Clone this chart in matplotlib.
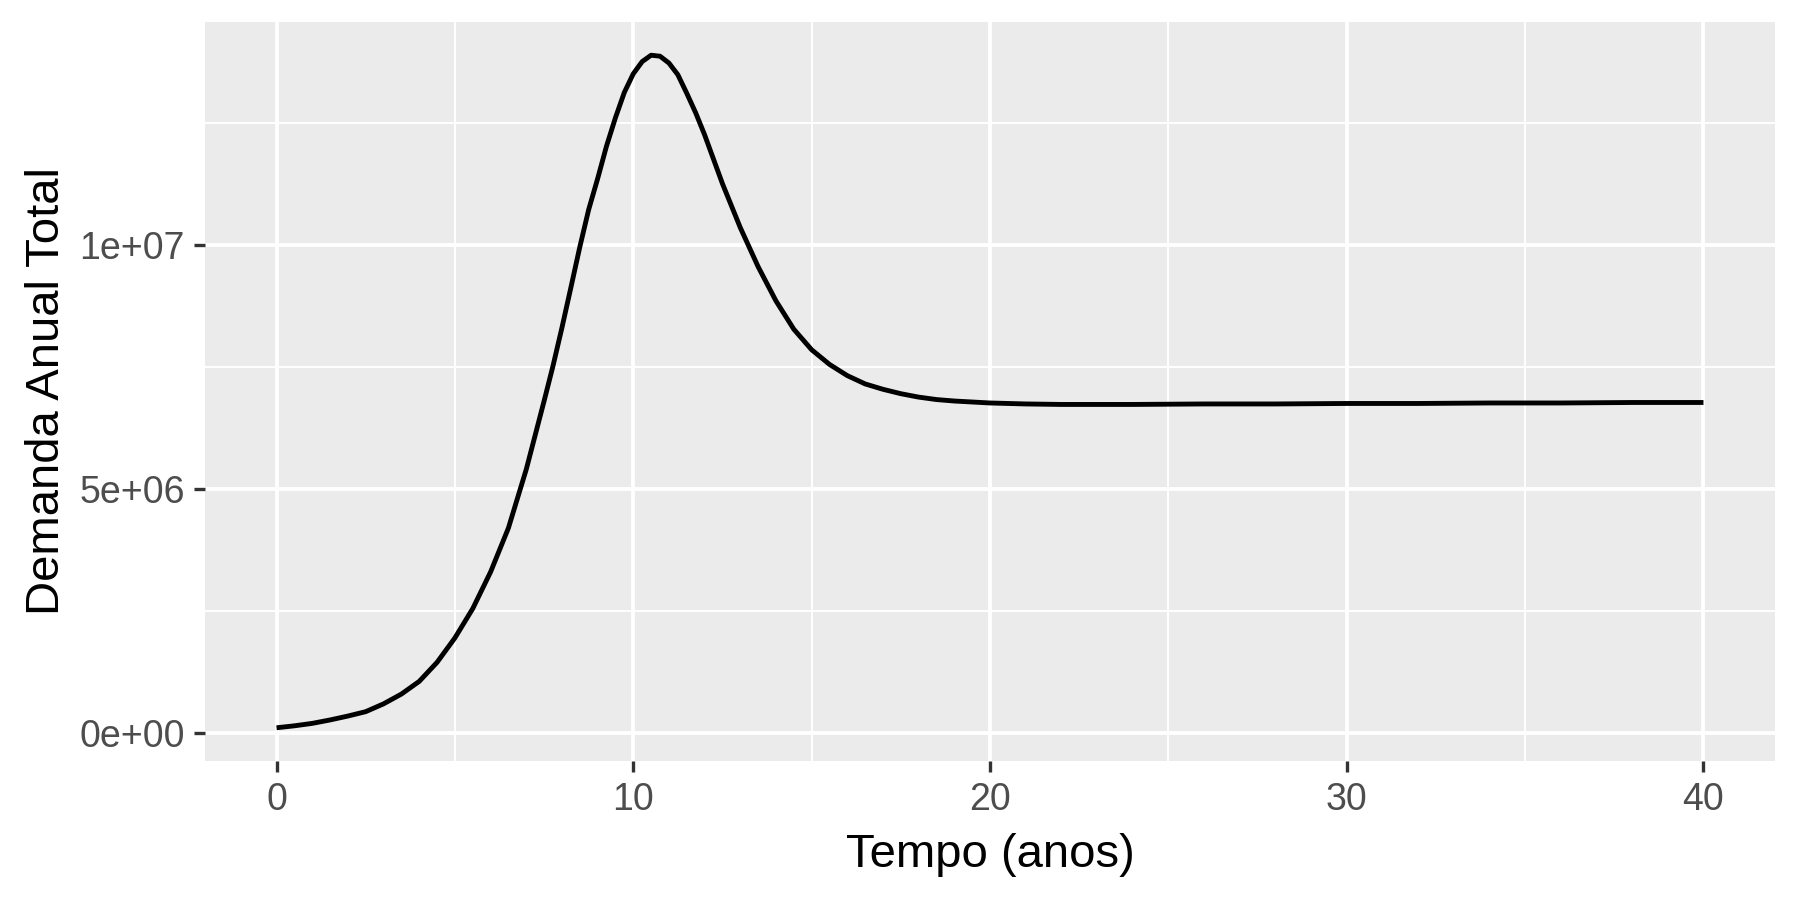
import numpy as np
import matplotlib
matplotlib.use("Agg")
import matplotlib.pyplot as plt

plt.rcParams['font.family'] = ['Liberation Sans', 'DejaVu Sans']

# DATA ---------------------------------------------------------------------------------------------
tempo = [0, 0.5, 1.0, 1.5, 2.0, 2.5, 3.0, 3.5, 4.0, 4.5, 5.0, 5.5, 6.0, 6.5, 7.0, 7.5,
         7.75, 8.0, 8.25, 8.5, 8.75, 9.0, 9.25, 9.5, 9.75, 10.0, 10.25, 10.5, 10.75,
         11.0, 11.25, 11.5, 11.75, 12.0, 12.5, 13.0, 13.5, 14.0, 14.5,
         15.0, 15.5, 16.0, 16.5, 17.0, 17.5, 18.0, 18.5, 19.0, 19.5, 20.0,
         21, 22, 24, 26, 28, 30, 32, 34, 36, 38, 40]
demanda_mi = [0.11, 0.15, 0.20, 0.27, 0.35, 0.44, 0.60, 0.80, 1.06, 1.45, 1.95, 2.55,
              3.30, 4.20, 5.40, 6.80, 7.52, 8.30, 9.12, 9.95, 10.72, 11.35, 12.02,
              12.60, 13.12, 13.50, 13.75, 13.88, 13.86, 13.72, 13.48, 13.10, 12.70,
              12.25, 11.25, 10.35, 9.55, 8.85, 8.27, 7.85, 7.55, 7.32, 7.15,
              7.04, 6.95, 6.88, 6.83, 6.80, 6.78, 6.76,
              6.74, 6.73, 6.73, 6.74, 6.74, 6.75, 6.75, 6.76, 6.76, 6.77, 6.77]
demanda = np.array(demanda_mi) * 1e6

x_ticks = [0, 10, 20, 30, 40]
y_ticks = [0, 5e6, 1e7]
y_tick_labels = ["0e+00", "5e+06", "1e+07"]

# PLOT ---------------------------------------------------------------------------------------------
fig = plt.figure(figsize=(18, 9), dpi=100)
ax = fig.add_axes([0.114, 0.154, 0.872, 0.822])
ax.set_facecolor("#EBEBEB")

ax.plot(tempo, demanda, color="black", linewidth=3.5, solid_joinstyle="round",
        solid_capstyle="butt", zorder=3)

# ggplot-like expansion of 5%
xmin, xmax = min(tempo), max(tempo)
ymin, ymax = demanda.min(), demanda.max()
dx, dy = (xmax - xmin) * 0.05, (ymax - ymin) * 0.05
ax.set_xlim(xmin - dx, xmax + dx)
ax.set_ylim(ymin - dy, ymax + dy)

ax.set_xticks(x_ticks)
ax.set_xticks([5, 15, 25, 35], minor=True)
ax.set_yticks(y_ticks)
ax.set_yticklabels(y_tick_labels)
ax.set_yticks([2.5e6, 7.5e6, 12.5e6], minor=True)

ax.grid(which="major", color="white", linewidth=2.8)
ax.grid(which="minor", color="white", linewidth=1.4)
ax.set_axisbelow(True)

for s in ax.spines.values():
    s.set_visible(False)

ax.tick_params(which="major", length=7.7, width=2.4, color="#333333",
               labelsize=27, labelcolor="#4D4D4D", pad=7)
ax.tick_params(which="minor", length=0)

ax.set_xlabel("Tempo (anos)", fontsize=34, color="black", va="center")
ax.xaxis.set_label_coords(0.5, -0.127)
ax.set_ylabel("Demanda Anual Total", fontsize=34, color="black", va="center")
ax.yaxis.set_label_coords(-0.1006, 0.5)

fig.savefig("out.png", dpi=100)
